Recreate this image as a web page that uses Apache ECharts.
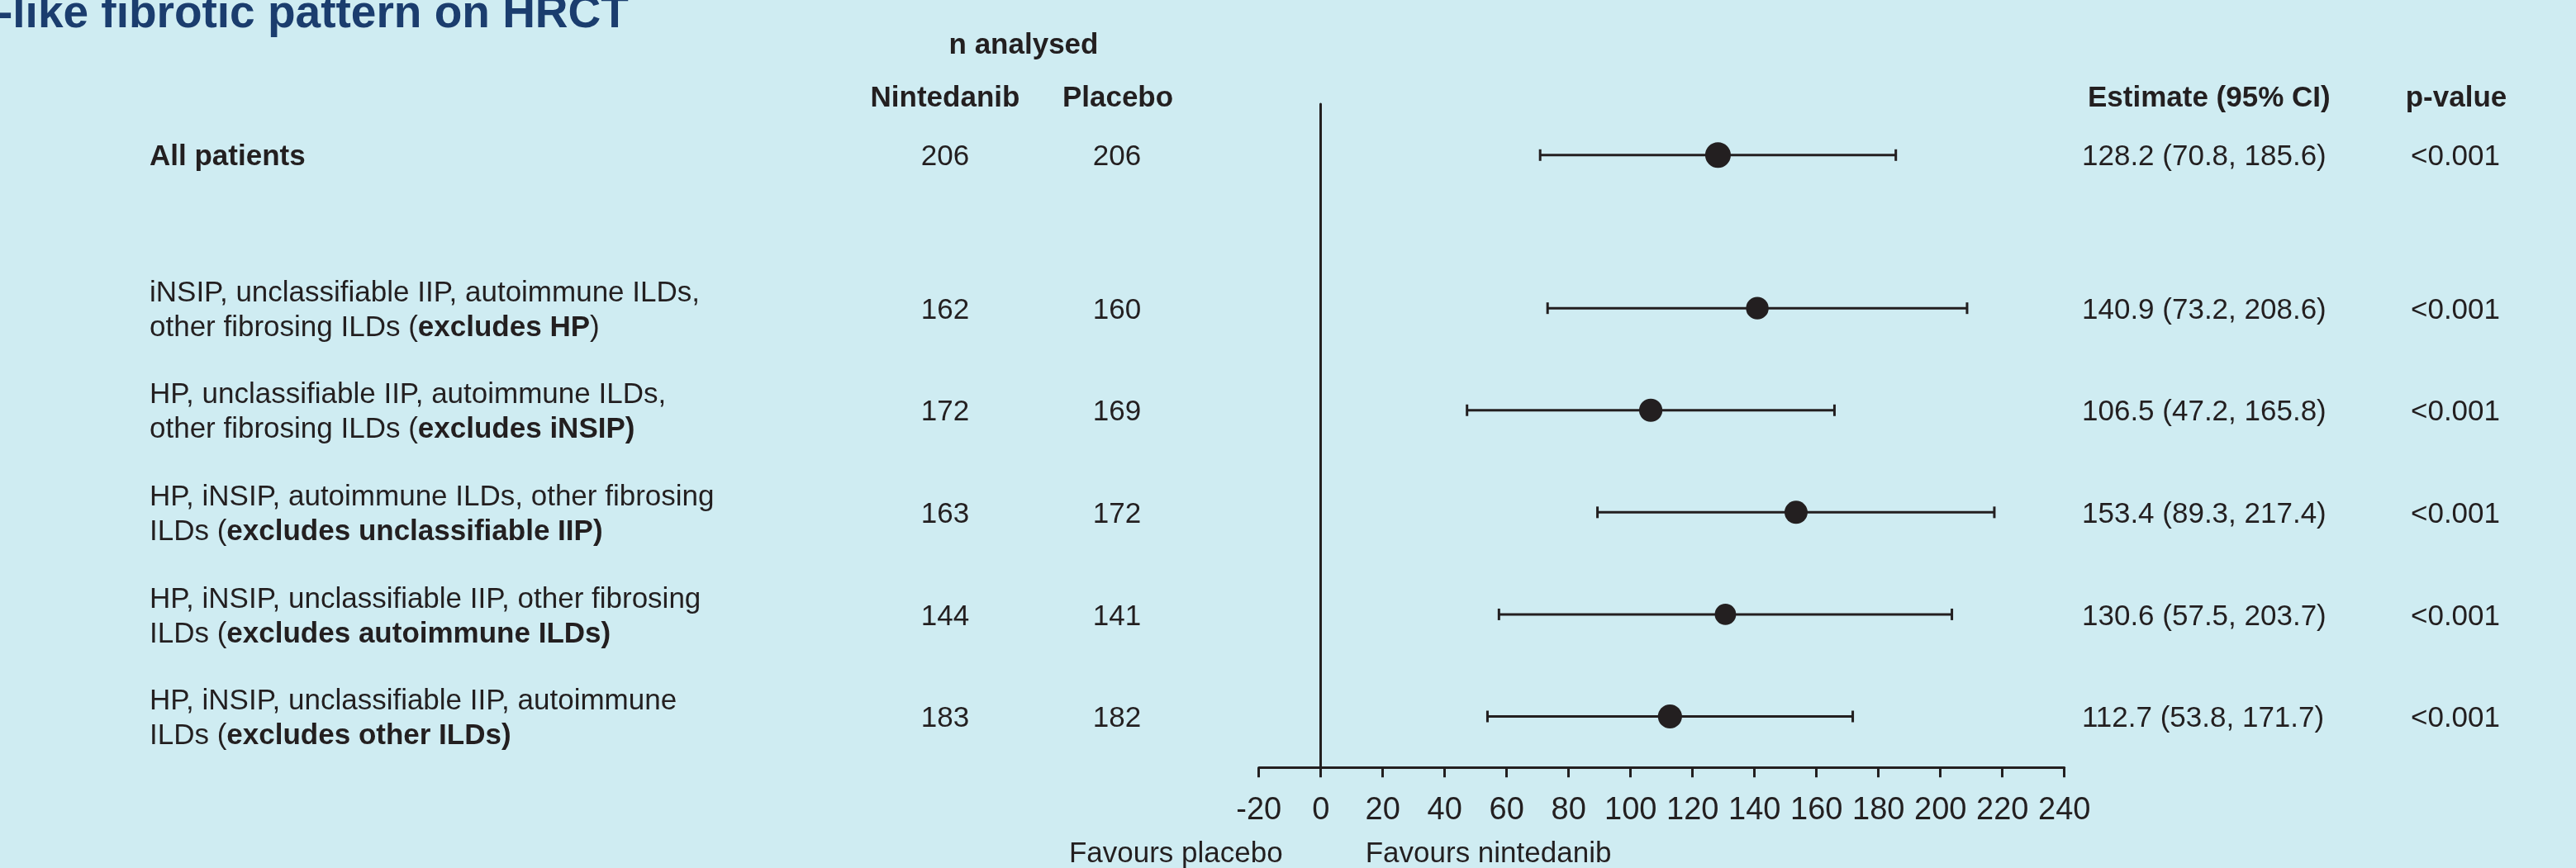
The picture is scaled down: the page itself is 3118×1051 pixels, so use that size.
<!DOCTYPE html>
<html>
<head>
<meta charset="utf-8">
<script src="https://cdn.jsdelivr.net/npm/echarts@6/dist/echarts.min.js"></script>
<style>
  html, body { margin: 0; padding: 0; background: #cfecf2; }
  #main { width: 3118px; height: 1051px; }
</style>
</head>
<body>
<div id="main"></div>
<script>
// subgroup labels, rich text: {b|...} is bold
const subgroupLabels = [
  '{b|All patients}',
  'iNSIP, unclassifiable IIP, autoimmune ILDs,\nother fibrosing ILDs ({b|excludes HP})',
  'HP, unclassifiable IIP, autoimmune ILDs,\nother fibrosing ILDs ({b|excludes iNSIP)}',
  'HP, iNSIP, autoimmune ILDs, other fibrosing\nILDs ({b|excludes unclassifiable IIP)}',
  'HP, iNSIP, unclassifiable IIP, other fibrosing\nILDs ({b|excludes autoimmune ILDs)}',
  'HP, iNSIP, unclassifiable IIP, autoimmune\nILDs ({b|excludes other ILDs)}'
];
const rowPos = [0, 1.5, 2.5, 3.5, 4.5, 5.5];
const nNintedanib = [206, 162, 172, 163, 144, 183];
const nPlacebo = [206, 160, 169, 172, 141, 182];
const estimate = [128.2, 140.9, 106.5, 153.4, 130.6, 112.7];
const ciLow = [70.8, 73.2, 47.2, 89.3, 57.5, 53.8];
const ciHigh = [185.6, 208.6, 165.8, 217.4, 203.7, 171.7];
const pValues = ['<0.001', '<0.001', '<0.001', '<0.001', '<0.001', '<0.001'];
const xMin = -20, xMax = 240, xStep = 20;

const FONT = '"Liberation Sans", Arial, Helvetica, sans-serif';
const INK = '#231f20';
const DY = 3; // small nudge so text sits on the row centre
const totals = nNintedanib.map((n, i) => n + nPlacebo[i]);
const maxTotal = Math.max(...totals);

const chart = echarts.init(document.getElementById('main'));

chart.setOption({
  backgroundColor: '#cfecf2',
  animation: false,
  grid: { left: 1523.7, top: 126, width: 975, height: 803.3 },
  xAxis: {
    type: 'value',
    min: xMin,
    max: xMax,
    interval: xStep,
    axisLine: { show: true, onZero: false, lineStyle: { color: INK, width: 3 } },
    axisTick: { show: true, length: 12, lineStyle: { color: INK, width: 3 } },
    axisLabel: { color: INK, fontSize: 38, fontFamily: FONT, margin: 33 },
    splitLine: { show: false }
  },
  yAxis: {
    type: 'value',
    inverse: true,
    min: -0.5,
    max: 6,
    axisLine: { show: true, onZero: true, lineStyle: { color: INK, width: 3 } },
    axisTick: { show: false },
    axisLabel: { show: false },
    splitLine: { show: false }
  },
  series: [
    {
      type: 'custom',
      clip: false,
      data: ciLow.map((lo, i) => [lo, ciHigh[i], rowPos[i]]),
      renderItem: function (params, api) {
        const y = api.coord([0, api.value(2)])[1];
        const x1 = api.coord([api.value(0), 0])[0];
        const x2 = api.coord([api.value(1), 0])[0];
        const st = { stroke: INK, lineWidth: 3 };
        return {
          type: 'group',
          children: [
            { type: 'line', shape: { x1: x1, y1: y, x2: x2, y2: y }, style: st },
            { type: 'line', shape: { x1: x1, y1: y - 7, x2: x1, y2: y + 7 }, style: st },
            { type: 'line', shape: { x1: x2, y1: y - 7, x2: x2, y2: y + 7 }, style: st }
          ]
        };
      }
    },
    {
      type: 'scatter',
      data: estimate.map((e, i) => [e, rowPos[i], totals[i]]),
      symbol: 'circle',
      symbolSize: function (v) { return 31 * Math.sqrt(v[2] / maxTotal); },
      itemStyle: { color: INK, opacity: 1 },
      z: 5
    }
  ]
});

function txt(x, y, text, opts) {
  opts = opts || {};
  return {
    type: 'text',
    x: x,
    y: y + DY,
    silent: true,
    style: Object.assign({
      text: text,
      fill: INK,
      fontSize: 35,
      fontFamily: FONT,
      fontWeight: 'normal',
      align: 'left',
      verticalAlign: 'middle'
    }, opts)
  };
}

const g = [];
// title (cropped at top of the picture)
g.push(txt(-3, 15, '-like fibrotic pattern on HRCT', { fill: '#1b3d6e', fontSize: 55, fontWeight: 'bold' }));
// headers
g.push(txt(1239, 52, 'n analysed', { fontWeight: 'bold', align: 'center' }));
g.push(txt(1144, 116, 'Nintedanib', { fontWeight: 'bold', align: 'center' }));
g.push(txt(1353, 116, 'Placebo', { fontWeight: 'bold', align: 'center' }));
g.push(txt(2527, 116, 'Estimate (95% CI)', { fontWeight: 'bold' }));
g.push(txt(2973, 116, 'p-value', { fontWeight: 'bold', align: 'center' }));

rowPos.forEach(function (p, i) {
  const y = chart.convertToPixel({ yAxisIndex: 0 }, p);
  g.push(txt(181, y, subgroupLabels[i], {
    lineHeight: 42,
    rich: { b: { fontWeight: 'bold', fontSize: 35, fontFamily: FONT, fill: INK, lineHeight: 42 } }
  }));
  g.push(txt(1144, y, String(nNintedanib[i]), { align: 'center' }));
  g.push(txt(1352, y, String(nPlacebo[i]), { align: 'center' }));
  g.push(txt(2520, y, estimate[i].toFixed(1) + ' (' + ciLow[i].toFixed(1) + ', ' + ciHigh[i].toFixed(1) + ')'));
  g.push(txt(2972, y, pValues[i], { align: 'center' }));
});

// direction labels under the axis, around the zero line
const x0 = chart.convertToPixel({ xAxisIndex: 0 }, 0);
g.push(txt(x0 - 46, 1031, 'Favours placebo', { align: 'right' }));
g.push(txt(x0 + 54, 1031, 'Favours nintedanib'));

chart.setOption({ graphic: g });
</script>
</body>
</html>
